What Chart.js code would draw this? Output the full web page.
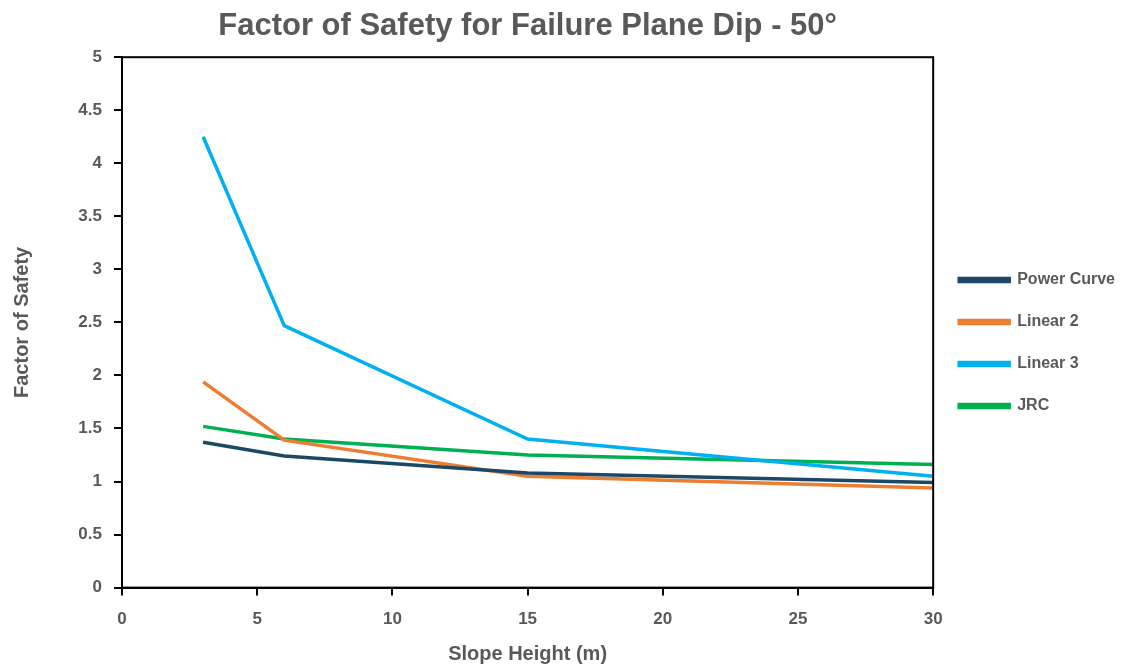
<!DOCTYPE html>
<html>
<head>
<meta charset="utf-8">
<script src="https://cdn.jsdelivr.net/npm/chart.js@4"></script>
<style>
  html, body { margin: 0; padding: 0; background: #fff; }
</style>
</head>
<body>
<canvas id="myChart" width="1125" height="668"></canvas>
<script>
const slopeHeights = [3, 6, 15, 30];
const powerCurve = [1.37, 1.24, 1.08, 0.99];
const linear2 = [1.94, 1.39, 1.05, 0.94];
const linear3 = [4.25, 2.47, 1.40, 1.05];
const jrc = [1.52, 1.40, 1.25, 1.16];

const font = "'Liberation Sans Narrow', 'Liberation Sans', Arial, sans-serif";
const grey = '#595959';

function pts(ys) {
    return slopeHeights.map((x, i) => ({ x: x, y: ys[i] }));
}

// frame around the plot area
const frame = {
    id: 'frame',
    afterDatasetsDraw(chart) {
        const a = chart.chartArea;
        const c = chart.ctx;
        c.save();
        c.strokeStyle = '#000';
        c.lineWidth = 2;
        c.strokeRect(a.left, a.top, a.right - a.left, a.bottom - a.top);
        c.restore();
    }
};

const ctx = document.getElementById('myChart').getContext('2d');
const myChart = new Chart(ctx, {
    type: 'line',
    data: {
        datasets: [
            { label: 'Power Curve', data: pts(powerCurve), borderColor: '#1B4965', backgroundColor: '#1B4965' },
            { label: 'Linear 2', data: pts(linear2), borderColor: '#ED7D31', backgroundColor: '#ED7D31' },
            { label: 'Linear 3', data: pts(linear3), borderColor: '#00B0F0', backgroundColor: '#00B0F0' },
            { label: 'JRC', data: pts(jrc), borderColor: '#00B050', backgroundColor: '#00B050' }
        ].map(d => Object.assign(d, { borderWidth: 3.5, pointRadius: 0, tension: 0, fill: false }))
    },
    options: {
        responsive: false,
        animation: false,
        layout: { padding: { left: 10, right: 0, top: 4, bottom: 2 } },
        plugins: {
            title: {
                display: true,
                text: 'Factor of Safety for Failure Plane Dip - 50°',
                color: grey,
                fullSize: false,
                font: { family: font, size: 31, weight: 'bold' },
                padding: { top: 4, bottom: 12 }
            },
            legend: {
                position: 'right',
                title: { display: true, text: '', font: { size: 10 }, padding: { top: 0, bottom: 4 } },
                labels: {
                    color: grey,
                    font: { family: font, size: 16, weight: 'bold' },
                    boxWidth: 50,
                    boxHeight: 3,
                    padding: 26
                }
            },
            tooltip: { enabled: false }
        },
        scales: {
            x: {
                type: 'linear',
                min: 0,
                max: 30,
                ticks: { stepSize: 5, color: grey, font: { family: font, size: 17, weight: 'bold' }, padding: 14 },
                grid: { drawOnChartArea: false, drawTicks: true, tickLength: 8, color: '#000', lineWidth: 2 },
                border: { color: '#000', width: 2 },
                title: { display: true, text: 'Slope Height (m)', color: grey, font: { family: font, size: 20, weight: 'bold' }, padding: { top: -2, bottom: 0 } }
            },
            y: {
                min: 0,
                max: 5,
                afterFit: scale => { scale.width = 112; },
                ticks: { stepSize: 0.5, color: grey, font: { family: font, size: 17, weight: 'bold' }, padding: 12, callback: v => String(v) },
                grid: { drawOnChartArea: false, drawTicks: true, tickLength: 8, color: '#000', lineWidth: 2 },
                border: { color: '#000', width: 2 },
                title: { display: true, text: 'Factor of Safety', color: grey, font: { family: font, size: 20, weight: 'bold' }, padding: { top: 0, bottom: 0 } }
            }
        }
    },
    plugins: [frame]
});
</script>
</body>
</html>
